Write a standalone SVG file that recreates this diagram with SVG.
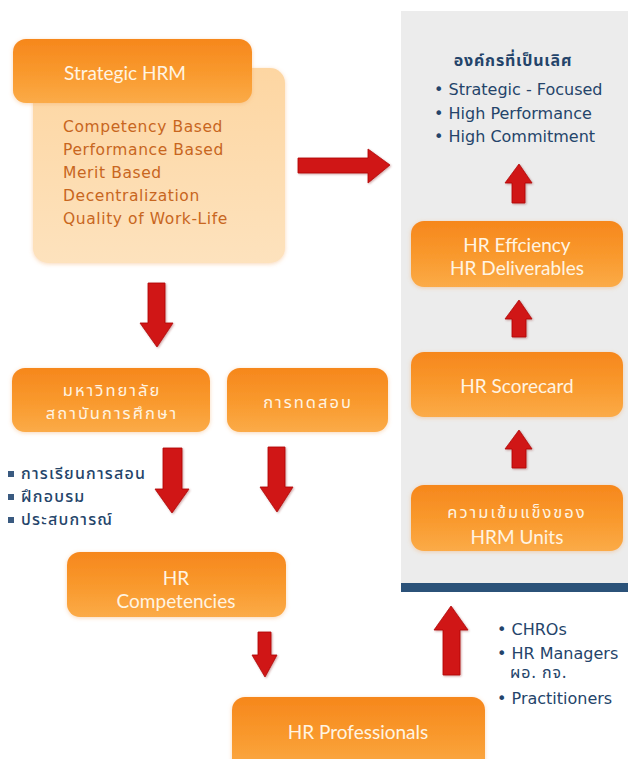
<svg xmlns="http://www.w3.org/2000/svg" width="628" height="759" viewBox="0 0 628 759">
  <defs>
    <linearGradient id="orange" x1="0" y1="0" x2="0" y2="1">
      <stop offset="0" stop-color="#f6871c"/>
      <stop offset="0.55" stop-color="#f99a2e"/>
      <stop offset="1" stop-color="#fbab48"/>
    </linearGradient>
    <linearGradient id="peach" x1="0" y1="0" x2="0" y2="1">
      <stop offset="0" stop-color="#fdd6a2"/>
      <stop offset="1" stop-color="#fde2bd"/>
    </linearGradient>
    <filter id="glow" x="-10%" y="-10%" width="120%" height="130%">
      <feGaussianBlur in="SourceAlpha" stdDeviation="2"/>
      <feOffset dy="1" result="b"/>
      <feFlood flood-color="#f2a860" flood-opacity="0.45"/>
      <feComposite in2="b" operator="in"/>
      <feMerge><feMergeNode/><feMergeNode in="SourceGraphic"/></feMerge>
    </filter>
    <filter id="ashadow" x="-30%" y="-10%" width="160%" height="130%">
      <feGaussianBlur in="SourceAlpha" stdDeviation="1.2"/>
      <feOffset dx="1" dy="1" result="b"/>
      <feFlood flood-color="#7a0000" flood-opacity="0.35"/>
      <feComposite in2="b" operator="in"/>
      <feMerge><feMergeNode/><feMergeNode in="SourceGraphic"/></feMerge>
    </filter>
  </defs>
  <style>
    .box { fill: url(#orange); filter: url(#glow); }
    .lbl { font-family: Lato, "Open Sans", "DejaVu Sans", sans-serif; font-size: 19px; fill: #fff4e2; text-anchor: middle; dominant-baseline: central; }
    .th { font-family: "Noto Sans Thai", "Noto Sans", "DejaVu Sans", sans-serif; font-size: 16.5px; fill: #fff4e2; text-anchor: middle; dominant-baseline: central; letter-spacing: 2px; }
    .item { font-family: "DejaVu Sans", sans-serif; font-size: 15.5px; letter-spacing: 0.6px; fill: #c8661e; dominant-baseline: central; }
    .nav { font-family: "DejaVu Sans", sans-serif; font-size: 16px; fill: #24446a; dominant-baseline: central; }
    .navth { font-family: "Noto Sans Thai", "DejaVu Sans", sans-serif; font-size: 16px; fill: #24446a; dominant-baseline: central; }
    .arrow { fill: #d01414; stroke: #b00a0a; stroke-width: 0.8; filter: url(#ashadow); }
  </style>

  <rect width="628" height="759" fill="#ffffff"/>

  <!-- right panel -->
  <g id="panel">
    <rect x="401" y="11" width="227" height="574" fill="#ececec"/>
    <rect x="401" y="583" width="227" height="9" fill="#2b5279"/>
  </g>

  <!-- Strategic HRM -->
  <g id="strategic-hrm">
    <rect x="33" y="68" width="252" height="195" rx="15" fill="url(#peach)" filter="url(#glow)"/>
    <rect class="box" x="13" y="39" width="239" height="64" rx="13"/>
    <text class="lbl" x="125" y="72" font-size="21">Strategic HRM</text>
    <text class="item" x="63" y="127">Competency Based</text>
    <text class="item" x="63" y="150">Performance Based</text>
    <text class="item" x="63" y="173">Merit Based</text>
    <text class="item" x="63" y="196">Decentralization</text>
    <text class="item" x="63" y="219">Quality of Work-Life</text>
  </g>

  <!-- excellence -->
  <g id="excellence">
    <text class="navth" x="513" y="61" text-anchor="middle" font-weight="bold" font-size="19" letter-spacing="0.8">องค์กรที่เป็นเลิศ</text>
    <text class="nav" x="434" y="89">• Strategic - Focused</text>
    <text class="nav" x="434" y="113">• High Performance</text>
    <text class="nav" x="434" y="136">• High Commitment</text>
  </g>

  <g id="hr-efficiency">
    <rect class="box" x="411" y="221" width="212" height="66" rx="13"/>
    <text class="lbl" x="517" y="244"><tspan x="517">HR Effciency</tspan><tspan x="517" dy="23">HR Deliverables</tspan></text>
  </g>

  <g id="hr-scorecard">
    <rect class="box" x="411" y="352" width="212" height="65" rx="13"/>
    <text class="lbl" x="517" y="385">HR Scorecard</text>
  </g>

  <g id="hrm-units">
    <rect class="box" x="411" y="485" width="212" height="66" rx="13"/>
    <text class="th" x="517" y="512"><tspan x="517">ความเข้มแข็งของ</tspan><tspan x="517" dy="24" class="lbl" letter-spacing="0">HRM Units</tspan></text>
  </g>

  <g id="university">
    <rect class="box" x="12" y="368" width="198" height="64" rx="13"/>
    <text class="th" x="112" y="390"><tspan x="112">มหาวิทยาลัย</tspan><tspan x="112" dy="23">สถาบันการศึกษา</tspan></text>
  </g>

  <g id="testing">
    <rect class="box" x="227" y="368" width="161" height="64" rx="13"/>
    <text class="th" x="308" y="402">การทดสอบ</text>
  </g>

  <g id="learning">
    <rect x="8" y="471" width="6" height="6" fill="#3a5a80"/>
    <rect x="8" y="494" width="6" height="6" fill="#3a5a80"/>
    <rect x="8" y="517" width="6" height="6" fill="#3a5a80"/>
    <text class="navth" x="21" y="474" font-size="17" letter-spacing="1.2" font-weight="500">การเรียนการสอน</text>
    <text class="navth" x="21" y="497" font-size="17" letter-spacing="1.2" font-weight="500">ฝึกอบรม</text>
    <text class="navth" x="21" y="520" font-size="17" letter-spacing="1.2" font-weight="500">ประสบการณ์</text>
  </g>

  <g id="hr-competencies">
    <rect class="box" x="67" y="552" width="219" height="65" rx="13"/>
    <text class="lbl" x="176" y="577"><tspan x="176">HR</tspan><tspan x="176" dy="23">Competencies</tspan></text>
  </g>

  <g id="hr-professionals">
    <rect class="box" x="232" y="697" width="253" height="75" rx="13"/>
    <text class="lbl" x="358" y="731">HR Professionals</text>
  </g>

  <g id="roles">
    <text class="nav" x="497" y="629">• CHROs</text>
    <text class="nav" x="497" y="653">• HR Managers</text>
    <text class="navth" x="510" y="673" font-size="14" letter-spacing="1">ผอ. กจ.</text>
    <text class="nav" x="497" y="698">• Practitioners</text>
  </g>

  <!-- connectors -->
  <g id="connectors">
    <!-- Strategic HRM to excellence -->
    <polygon class="arrow" points="298,158 368,158 368,149 390,165 368,183 368,173 298,173"/>
    <!-- Strategic HRM down -->
    <polygon class="arrow" points="148,283 165,283 165,323 173,323 157,347 140,323 148,323"/>
    <!-- university down -->
    <polygon class="arrow" points="163,448 182,448 182,489 189,489 172,513 155,489 163,489"/>
    <!-- testing down -->
    <polygon class="arrow" points="268,447 285,447 285,487 293,487 277,512 260,487 268,487"/>
    <!-- competencies down -->
    <polygon class="arrow" points="258,632 271,632 271,655 277,655 265,677 252,655 258,655"/>
    <!-- professionals up to units -->
    <polygon class="arrow" points="443,675 460,675 460,630 468,630 451,606 434,630 443,630"/>
    <!-- units up -->
    <polygon class="arrow" points="512,468 526,468 526,449 532,449 519,430 505,449 512,449"/>
    <!-- scorecard up -->
    <polygon class="arrow" points="512,337 526,337 526,319 532,319 519,300 505,319 512,319"/>
    <!-- efficiency up -->
    <polygon class="arrow" points="512,203 525,203 525,183 532,183 519,164 505,183 512,183"/>
  </g>
</svg>
